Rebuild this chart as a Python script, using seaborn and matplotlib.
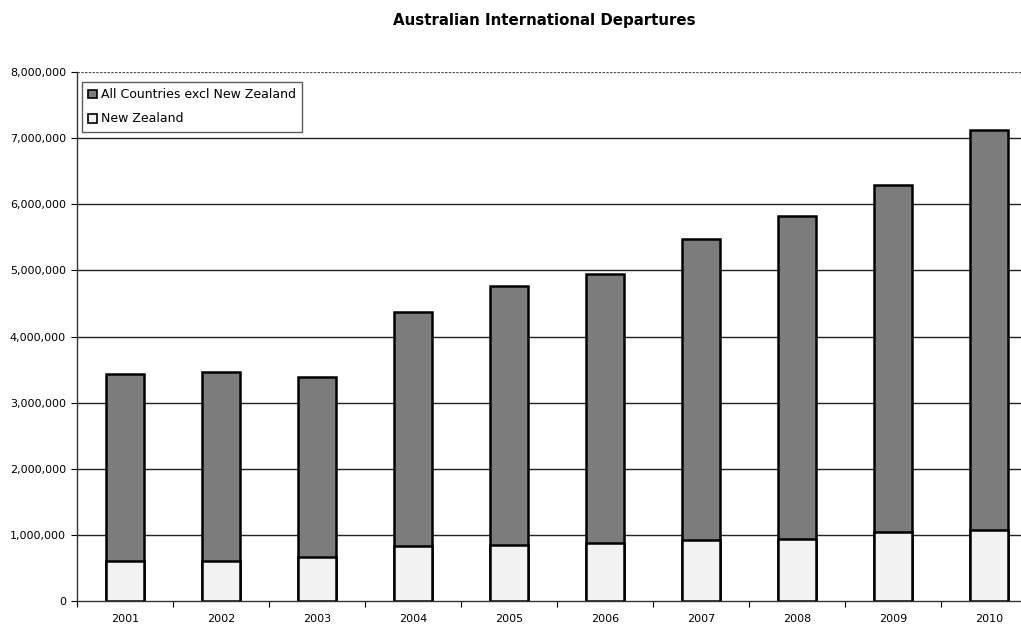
import matplotlib
matplotlib.use("Agg")
import matplotlib.pyplot as plt
import seaborn as sns
import pandas as pd
import numpy as np
from matplotlib.ticker import FuncFormatter, FixedLocator
from matplotlib.patches import Patch

years = ["2001", "2002", "2003", "2004", "2005", "2006", "2007", "2008", "2009", "2010"]
new_zealand = [605000, 605000, 665000, 830000, 850000, 880000, 920000, 940000, 1040000, 1070000]
other_countries = [2825000, 2855000, 2725000, 3540000, 3910000, 4070000, 4560000, 4880000, 5250000, 6050000]

df = pd.DataFrame({
    "year": years,
    "nz": new_zealand,
    "other": other_countries,
})
df["total"] = df["nz"] + df["other"]

sns.set_theme(style="white")
plt.rcParams["font.family"] = ["DejaVu Sans"]
plt.rcParams["text.color"] = "black"
plt.rcParams["xtick.color"] = "black"
plt.rcParams["ytick.color"] = "black"

fig = plt.figure(figsize=(10.21, 6.27), dpi=100)
ax = fig.add_axes([77 / 1021, 26 / 627, 960 / 1021, 529 / 627])

dark = "#7c7c7c"
light = "#f2f2f2"

sns.barplot(data=df, x="year", y="total", color=dark, width=0.4,
            edgecolor="black", linewidth=1.8, saturation=1, ax=ax, zorder=3)
sns.barplot(data=df, x="year", y="nz", color=light, width=0.4,
            edgecolor="black", linewidth=1.8, saturation=1, ax=ax, zorder=4)

ax.set_xlim(-0.5, 9.5)
ax.set_ylim(0, 8000000)
ax.set_yticks(np.arange(0, 8000001, 1000000))
ax.yaxis.set_major_formatter(FuncFormatter(lambda v, p: f"{int(v):,}"))
ax.set_xlabel("")
ax.set_ylabel("")

# horizontal gridlines
for v in range(1000000, 8000001, 1000000):
    if v == 8000000:
        ax.axhline(v, color="#555555", lw=0.9, ls=(0, (2, 1)), zorder=1)
    else:
        ax.axhline(v, color="#222222", lw=1.0, zorder=1)

# tick marks on category boundaries
ax.xaxis.set_minor_locator(FixedLocator(np.arange(-0.5, 10, 1.0)))
ax.tick_params(axis="x", which="major", length=0, labelsize=8, pad=9, labelcolor="black")
ax.tick_params(axis="x", which="minor", length=4, width=0.8, direction="out", bottom=True, color="black")
ax.tick_params(axis="y", which="major", length=4, width=0.8, direction="out", left=True,
               labelsize=8, pad=4, labelcolor="black", color="black")

for side in ["top", "right"]:
    ax.spines[side].set_visible(False)
ax.spines["left"].set_color("#333333")
ax.spines["left"].set_linewidth(1.0)
ax.spines["bottom"].set_color("#333333")
ax.spines["bottom"].set_linewidth(1.0)

handles = [
    Patch(facecolor=dark, edgecolor="black", linewidth=1.2, label="All Countries excl New Zealand"),
    Patch(facecolor=light, edgecolor="black", linewidth=1.2, label="New Zealand"),
]
leg = ax.legend(handles=handles, loc="upper left", bbox_to_anchor=(5 / 960, 1 - 10 / 529),
                frameon=True, fancybox=False, fontsize=9, handlelength=0.7, handleheight=0.7,
                handletextpad=0.3, labelspacing=0.9, borderpad=0.5, borderaxespad=0)
leg.get_frame().set_edgecolor("#333333")
leg.get_frame().set_linewidth(1.0)
leg.set_zorder(5)
for t in leg.get_texts():
    t.set_color("black")

fig.text(544 / 1021, 1 - 21 / 627, "Australian International Departures",
         ha="center", va="center", fontsize=10.8, fontweight="bold", color="black")

fig.savefig("out.png", dpi=100, facecolor="white")
